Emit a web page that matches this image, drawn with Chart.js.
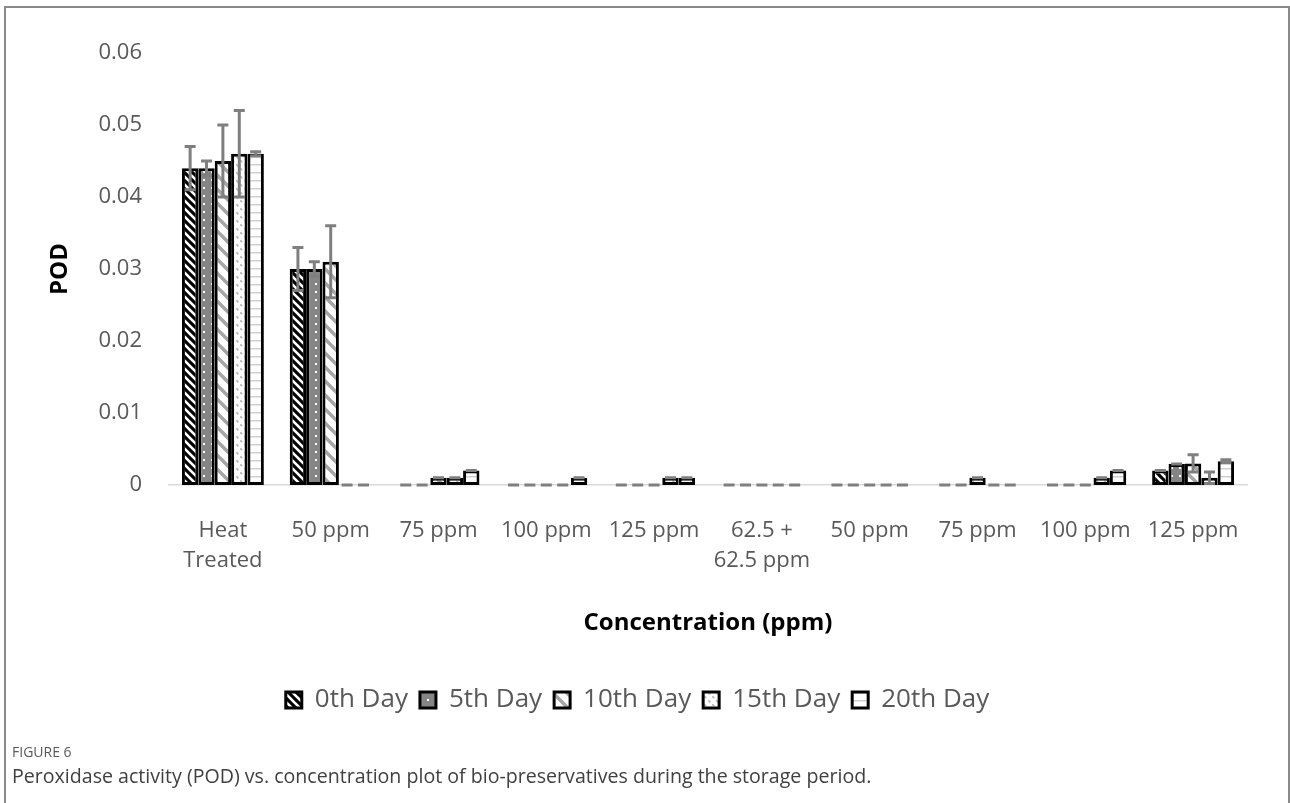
<!DOCTYPE html>
<html>
<head>
<meta charset="utf-8">
<script src="https://cdn.jsdelivr.net/npm/chart.js@4.4.1/dist/chart.umd.min.js"></script>
<style>
  html, body { margin: 0; padding: 0; background: #ffffff; width: 1290px; height: 803px; overflow: hidden; }
  #wrap { position: absolute; left: 0; top: 0; width: 1290px; height: 740px; }
  #frame { position: absolute; left: 4px; top: 6px; width: 1282px; height: 820px; border: 2px solid #8a8a8a; border-bottom: none; pointer-events: none; }
  #figlabel { position: absolute; left: 12px; top: 742px; font-family: "Open Sans", sans-serif; font-size: 14px; color: #595959; }
  #caption { position: absolute; left: 12px; top: 762px; font-family: "Open Sans", sans-serif; font-size: 19.6px; color: #404040; }
</style>
</head>
<body>
<div id="wrap"><canvas id="c" width="1290" height="740"></canvas></div>
<div id="frame"></div>
<div id="figlabel">FIGURE 6</div>
<div id="caption">Peroxidase activity (POD) vs. concentration plot of bio-preservatives during the storage period.</div>
<script>
// ---- data ----
const categories = [["Heat", "Treated"], "50 ppm", "75 ppm", "100 ppm", "125 ppm", ["62.5 +", "62.5 ppm"], "50 ppm", "75 ppm", "100 ppm", "125 ppm"];
const seriesNames = ["0th Day", "5th Day", "10th Day", "15th Day", "20th Day"];
const day0  = [0.044, 0.030, 0,     0,     0,     0, 0, 0,     0,     0.002];
const day5  = [0.044, 0.030, 0,     0,     0,     0, 0, 0,     0,     0.0029];
const day10 = [0.045, 0.031, 0.001, 0,     0,     0, 0, 0.001, 0,     0.003];
const day15 = [0.046, 0,     0.001, 0,     0.001, 0, 0, 0,     0.001, 0.001];
const day20 = [0.046, 0,     0.002, 0.001, 0.001, 0, 0, 0,     0.002, 0.0033];
const err0  = [0.003,  0.003, 0, 0, 0, 0, 0, 0, 0, 0];
const err5  = [0.001,  0.001, 0, 0, 0, 0, 0, 0, 0, 0];
const err10 = [0.005,  0.005, 0, 0, 0, 0, 0, 0, 0, 0.0012];
const err15 = [0.006,  0,     0, 0, 0, 0, 0, 0, 0, 0.0008];
const err20 = [0.0003, 0,     0, 0, 0, 0, 0, 0, 0, 0.0002];
const yTicks = [0, 0.01, 0.02, 0.03, 0.04, 0.05, 0.06];

const seriesValues = [day0, day5, day10, day15, day20];
const seriesErrors = [err0, err5, err10, err15, err20];

// ---- patterns ----
function tile(w, h, draw) {
  const c = document.createElement('canvas');
  c.width = w; c.height = h;
  const g = c.getContext('2d');
  draw(g, w, h);
  return g.createPattern(c, 'repeat');
}
function diag(g, s, lw, color) {
  g.strokeStyle = color; g.lineWidth = lw;
  g.beginPath();
  for (let k = -1; k <= 1; k++) {
    g.moveTo(k * s - 1, -1); g.lineTo(k * s + s + 1, s + 1);
  }
  g.stroke();
}
const patterns = [
  tile(8, 8, (g, w, h) => { g.fillStyle = '#000'; g.fillRect(0, 0, w, h); diag(g, 8, 2.6, '#fff'); }),
  tile(8, 8, (g, w, h) => { g.fillStyle = '#858585'; g.fillRect(0, 0, w, h); g.fillStyle = '#fff'; g.fillRect(3, 3, 2, 2); }),
  tile(14, 14, (g, w, h) => { g.fillStyle = '#fff'; g.fillRect(0, 0, w, h); diag(g, 14, 3.5, '#a6a6a6'); }),
  tile(8, 8, (g, w, h) => { g.fillStyle = '#fff'; g.fillRect(0, 0, w, h); g.strokeStyle = '#bdbdbd'; g.lineWidth = 2; g.setLineDash([3, 3]); g.beginPath(); g.moveTo(0, 0); g.lineTo(8, 8); g.stroke(); }),
  tile(8, 8, (g, w, h) => { g.fillStyle = '#fff'; g.fillRect(0, 0, w, h); g.fillStyle = '#cfcfcf'; g.fillRect(0, 4, 8, 1.5); })
];

// ---- error bars plugin ----
const errorBars = {
  id: 'errorBars',
  afterDatasetsDraw(chart) {
    const ctx = chart.ctx;
    const ys = chart.scales.y;
    ctx.save();
    ctx.strokeStyle = '#7f7f7f';
    ctx.lineWidth = 3;
    chart.data.datasets.forEach((ds, i) => {
      const meta = chart.getDatasetMeta(i);
      const errs = seriesErrors[i];
      meta.data.forEach((el, j) => {
        const v = ds.data[j];
        const e = errs[j];
        const x = el.x;
        const yt = ys.getPixelForValue(v + e);
        const yb = ys.getPixelForValue(Math.max(0, v - e));
        const cw = 5.5;
        ctx.beginPath();
        if (e > 0) { ctx.moveTo(x, yt); ctx.lineTo(x, yb); }
        ctx.moveTo(x - cw, yt); ctx.lineTo(x + cw, yt);
        ctx.moveTo(x - cw, yb); ctx.lineTo(x + cw, yb);
        ctx.stroke();
      });
    });
    ctx.restore();
  }
};

// shift the legend block slightly right to match the reference centring
const legendShift = {
  id: 'legendShift',
  afterLayout(chart) {
    if (chart.legend) { chart.legend.left += 14; chart.legend.right += 14; }
  }
};

const FONT = '"Open Sans", sans-serif';
const datasets = seriesNames.map((name, i) => ({
  label: name,
  data: seriesValues[i],
  backgroundColor: patterns[i],
  borderColor: '#000000',
  borderWidth: 3,
  borderSkipped: false,
  barPercentage: 1.0,
  categoryPercentage: 0.76
}));

new Chart(document.getElementById('c'), {
  type: 'bar',
  data: { labels: categories, datasets },
  plugins: [errorBars, legendShift],
  options: {
    responsive: false,
    animation: false,
    layout: { padding: { left: 0, right: 43, top: 53, bottom: 17 } },
    plugins: {
      tooltip: { enabled: false },
      legend: {
        position: 'bottom',
        labels: {
          boxWidth: 16, boxHeight: 16, padding: 12,
          color: '#595959',
          font: { family: FONT, size: 26 }
        }
      }
    },
    scales: {
      x: {
        grid: { display: false, drawTicks: false },
        border: { display: true, color: '#d9d9d9', width: 1.5 },
        ticks: { color: '#595959', font: { family: FONT, size: 22, lineHeight: 1.4 }, maxRotation: 0, autoSkip: false, padding: 30 },
        title: { display: true, text: 'Concentration (ppm)', color: '#000', font: { family: FONT, size: 24, weight: 'bold', lineHeight: 1.2 }, padding: { top: 0, bottom: 37 } },
        afterFit(scale) { scale.height = 190; }
      },
      y: {
        min: 0, max: 0.06,
        afterBuildTicks(scale) { scale.ticks = yTicks.map(v => ({ value: v })); },
        grid: { display: false, drawTicks: false },
        border: { display: false },
        ticks: { color: '#595959', font: { family: FONT, size: 22 }, padding: 27, callback: v => String(v) },
        title: { display: true, text: 'POD', color: '#000', font: { family: FONT, size: 24, weight: 'bold', lineHeight: 1.2 }, padding: { top: 46, bottom: 0 } },
        afterFit(scale) { scale.width = 169; }
      }
    }
  }
});
</script>
</body>
</html>
